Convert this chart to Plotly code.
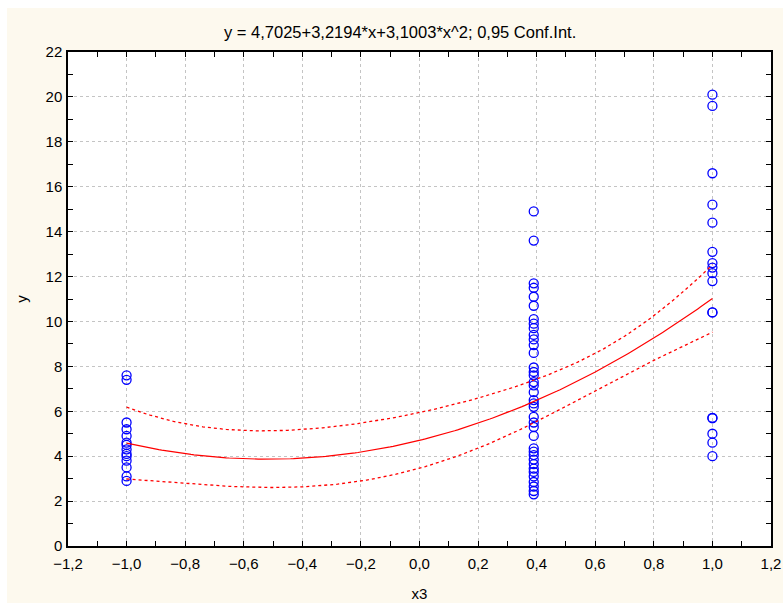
import numpy as np
import plotly.graph_objects as go

# ---- data ----
x_levels = [-1.0, 0.39, 1.0]
y_at_m1 = [7.6, 7.4, 5.5, 5.2, 4.9, 4.6, 4.5, 4.3, 4.1, 4.0, 3.8, 3.5, 3.1, 2.9]
y_at_039 = [14.9, 13.6, 11.7, 11.5, 11.1, 10.7, 10.1, 9.9, 9.7, 9.4, 9.2, 8.95, 8.6,
            7.95, 7.75, 7.6, 7.3, 7.15, 6.85, 6.5, 6.35, 6.2, 5.75, 5.5, 5.3, 4.9,
            4.35, 4.2, 4.05, 3.85, 3.65, 3.45, 3.3, 3.1, 2.85, 2.65, 2.45, 2.3]
y_at_1 = [20.1, 19.6, 16.6, 15.2, 14.4, 13.1, 12.6, 12.4, 12.15, 11.8, 10.4, 10.4,
          5.7, 5.7, 5.0, 4.6, 4.0]
coef = [4.7025, 3.2194, 3.1003]          # fit coefficients from the title
ci_half_at_levels = [1.6, 0.95, 1.5]     # 0.95 CI half-widths read at the three x levels
x_ticks = [-1.2, -1.0, -0.8, -0.6, -0.4, -0.2, 0.0, 0.2, 0.4, 0.6, 0.8, 1.0, 1.2]
y_ticks = list(range(0, 23, 2))
title_text = "y = 4,7025+3,2194*x+3,1003*x^2; 0,95 Conf.Int."

xs = [x_levels[0]] * len(y_at_m1) + [x_levels[1]] * len(y_at_039) + [x_levels[2]] * len(y_at_1)
ys = y_at_m1 + y_at_039 + y_at_1

# regression curve and its confidence band
# (with three x levels the quadratic prediction is a Lagrange combination of the
#  group means, so its standard error follows from the half-widths at the levels)
xg = np.linspace(-1, 1, 201)
fit = coef[0] + coef[1] * xg + coef[2] * xg ** 2
var = np.zeros_like(xg)
for i, xi in enumerate(x_levels):
    Li = np.ones_like(xg)
    for j, xj in enumerate(x_levels):
        if j != i:
            Li *= (xg - xj) / (xi - xj)
    var += (Li * ci_half_at_levels[i]) ** 2
half = np.sqrt(var)
upper = fit + half
lower = fit - half

FONT = "Liberation Sans, Arial, sans-serif"

fig = go.Figure()
fig.add_trace(go.Scatter(x=xs, y=ys, mode="markers",
                         marker=dict(symbol="circle-open", size=9, color="#0000FF",
                                     line=dict(width=1.3, color="#0000FF")),
                         showlegend=False, hoverinfo="skip"))
fig.add_trace(go.Scatter(x=xg, y=fit, mode="lines", line=dict(color="#FF0000", width=1.2),
                         showlegend=False))
fig.add_trace(go.Scatter(x=xg, y=upper, mode="lines", line=dict(color="#FF0000", width=1.3, dash="dot"),
                         showlegend=False))
fig.add_trace(go.Scatter(x=xg, y=lower, mode="lines", line=dict(color="#FF0000", width=1.3, dash="dot"),
                         showlegend=False))

L, R, T, B = 68, 12, 52, 57
W, H = 783, 603
pw, ph = W - L - R, H - T - B

axis_common = dict(showline=True, linecolor="black", linewidth=1.5, mirror="allticks",
                   ticks="inside", ticklen=5, tickcolor="black", tickwidth=1,
                   showgrid=True, gridcolor="#C4C4C4", griddash="dot", gridwidth=1,
                   zeroline=False, automargin=False,
                   tickfont=dict(family=FONT, size=15, color="black"))

fig.update_xaxes(range=[-1.2, 1.2], tickvals=x_ticks, tickformat=".1f", ticklabelstandoff=3,
                 minor=dict(dtick=0.1, tick0=0, ticks="inside", ticklen=5, tickcolor="black", showgrid=False),
                 title=dict(text="x3", font=dict(family=FONT, size=15, color="black"), standoff=18),
                 **axis_common)
fig.update_yaxes(range=[0, 22], tickvals=y_ticks, ticklabelstandoff=1,
                 minor=dict(dtick=1, tick0=0, ticks="inside", ticklen=5, tickcolor="black", showgrid=False),
                 title=dict(text="y", font=dict(family=FONT, size=15, color="black"), standoff=14),
                 **axis_common)

fig.add_annotation(text=title_text, xref="paper", yref="paper",
                   x=(400 - L) / pw, y=(H - B - 32) / ph, showarrow=False,
                   xanchor="center", yanchor="middle",
                   font=dict(family=FONT, size=16.5, color="black"))

# thin white strips at left and top edges
fig.add_shape(type="rect", xref="paper", yref="paper", layer="below",
              x0=-L / pw, x1=(7 - L) / pw, y0=-B / ph, y1=(H - B) / ph,
              fillcolor="white", line=dict(width=0))
fig.add_shape(type="rect", xref="paper", yref="paper", layer="below",
              x0=-L / pw, x1=(W - L) / pw, y0=(H - B - 8) / ph, y1=(H - B) / ph,
              fillcolor="white", line=dict(width=0))

fig.update_layout(width=W, height=H, margin=dict(l=L, r=R, t=T, b=B, autoexpand=False),
                  paper_bgcolor="#FDF9EE", plot_bgcolor="white",
                  separators=",.", font=dict(family=FONT, color="black"),
                  showlegend=False)

fig.write_html("out.html")
